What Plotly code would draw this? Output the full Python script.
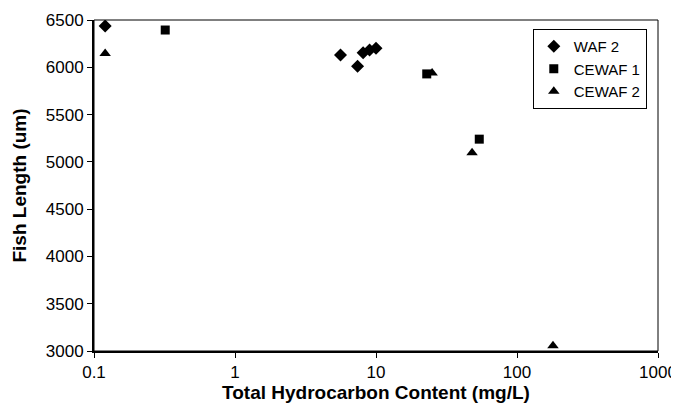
import plotly.graph_objects as go

waf2_x = [0.12, 5.6, 7.4, 8.1, 9.0, 10.0]
waf2_y = [6437, 6130, 6010, 6155, 6183, 6200]

cewaf1_x = [0.32, 22.9, 54.0]
cewaf1_y = [6394, 5930, 5240]

cewaf2_x = [0.12, 25.0, 48.0, 180.0]
cewaf2_y = [6145, 5940, 5095, 3055]

x_ticks = [0.1, 1, 10, 100, 1000]
x_tick_labels = ["0.1", "1", "10", "100", "1000"]
y_ticks = [3000, 3500, 4000, 4500, 5000, 5500, 6000, 6500]

font = "Liberation Sans, Arial, sans-serif"

fig = go.Figure()
fig.add_trace(go.Scatter(x=waf2_x, y=waf2_y, mode="markers", name="WAF 2",
                         marker=dict(symbol="diamond", size=10, color="black")))
fig.add_trace(go.Scatter(x=cewaf1_x, y=cewaf1_y, mode="markers", name="CEWAF 1",
                         marker=dict(symbol="square", size=9, color="black")))
fig.add_trace(go.Scatter(x=cewaf2_x, y=cewaf2_y, mode="markers", name="CEWAF 2",
                         marker=dict(symbol="triangle-up", size=10, color="black")))

# page body has an 8px margin: figure sized/offset to compensate
fig.update_layout(
    width=671, height=403,
    margin=dict(l=86, r=21, t=12, b=60, autoexpand=False),
    paper_bgcolor="white", plot_bgcolor="white",
    font=dict(family=font, size=16, color="black"),
    showlegend=True,
    legend=dict(x=0.778, y=0.973, xanchor="left", yanchor="top",
                bordercolor="black", borderwidth=1, bgcolor="white",
                font=dict(size=15, family=font), itemwidth=30,
                tracegroupgap=0, traceorder="normal"),
    xaxis=dict(type="log", range=[-1, 3], tickvals=x_ticks, ticktext=x_tick_labels,
               automargin=False,
               showgrid=False, zeroline=False, showline=True, linecolor="black", linewidth=2,
               ticks="outside", ticklen=5, tickwidth=1, tickcolor="black",
               tickfont=dict(size=17, family=font),
               title=dict(text="<b>Total Hydrocarbon Content (mg/L)</b>", font=dict(size=19, family=font), standoff=4)),
    yaxis=dict(range=[3000, 6500], tickvals=y_ticks, automargin=False,
               showgrid=False, zeroline=False, showline=True, linecolor="black", linewidth=2,
               ticks="outside", ticklen=5, tickwidth=1, tickcolor="black",
               tickfont=dict(size=17, family=font),
               title=dict(text="<b>Fish Length (um)</b>", font=dict(size=19, family=font), standoff=14)),
)
fig.add_shape(type="rect", xref="paper", yref="paper", x0=0, y0=0, x1=1, y1=1,
              line=dict(color="black", width=1), layer="below")
fig.write_html("out.html")
